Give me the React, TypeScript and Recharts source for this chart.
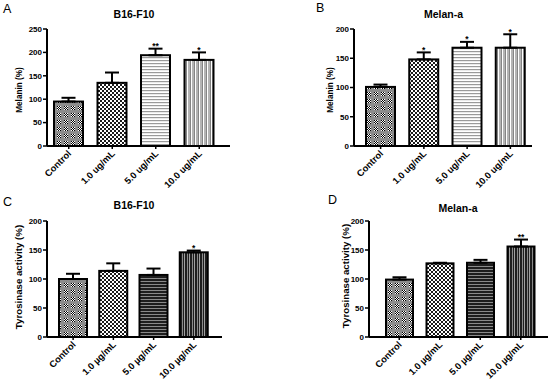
import React from 'react';
import { BarChart, Bar, XAxis, YAxis, ErrorBar, Cell } from 'recharts';

const categoriesUg = ['Control', '1.0 ug/mL', '5.0 ug/mL', '10.0 ug/mL'];
const categoriesMu = ['Control', '1.0 µg/mL', '5.0 µg/mL', '10.0 µg/mL'];

const melaninB16 = [95, 135, 194, 184];
const melaninB16Err = [8, 22, 14, 16];
const melaninB16Stars = ['', '', '**', '*'];

const melaninMelan = [101, 148, 168, 168];
const melaninMelanErr = [4, 12, 10, 23];
const melaninMelanStars = ['', '*', '*', '*'];

const tyrB16 = [100, 114, 107, 146];
const tyrB16Err = [9, 13, 11, 3];
const tyrB16Stars = ['', '', '', '*'];

const tyrMelan = [99, 127, 128, 156];
const tyrMelanErr = [4, 1, 5, 12];
const tyrMelanStars = ['', '', '', '**'];

const ticks250 = [0, 50, 100, 150, 200, 250];
const ticks200 = [0, 50, 100, 150, 200];

const FONT = "'Liberation Sans', Arial, sans-serif";

function makeRows(cats: string[], vals: number[], errs: number[], stars: string[]) {
  return cats.map((c, i) => ({ name: c, value: vals[i], err: [0, errs[i]], sd: errs[i], star: stars[i] }));
}

const XTick = (props: any) => {
  const { x, y, payload } = props;
  return (
    <g transform={`translate(${x},${y})`}>
      <text x={0} y={4.5} transform="rotate(-45)" textAnchor="end" fontSize={9.3} fontWeight="bold" fontFamily={FONT} fill="#000">
        {payload.value}
      </text>
    </g>
  );
};

// bar body plus the significance stars above its error cap
const BarShape = (props: any) => {
  const { x, y, width, height, fill } = props;
  const row = props.payload ?? props;
  if (x == null || !height) return null;
  const top = y - (row.sd * height) / row.value;
  return (
    <g>
      <rect x={x} y={y} width={width} height={height} fill={fill} stroke="#000" strokeWidth={2} />
      {row.star ? (
        <text x={x + width / 2} y={top + 0.5} textAnchor="middle" fontSize={8.5} fontWeight="bold" fontFamily={FONT} fill="#000">
          {row.star}
        </text>
      ) : null}
    </g>
  );
};

type PanelProps = {
  left: number;
  top: number;
  margin: { top: number; right: number; bottom: number; left: number };
  yWidth: number;
  rows: any[];
  ymax: number;
  ticks: number[];
  padding: { left: number; right: number };
  barSize: number;
  dark: boolean;
};

function Panel(p: PanelProps) {
  const fills = p.dark ? ['url(#pCtrl)', 'url(#pChk)', 'url(#pHDark)', 'url(#pVDark)'] : ['url(#pCtrl)', 'url(#pChk)', 'url(#pHLight)', 'url(#pVLight)'];
  return (
    <div style={{ position: 'absolute', left: p.left, top: p.top }}>
      <BarChart width={275} height={191} data={p.rows} margin={p.margin}>
        <XAxis
          dataKey="name"
          interval={0}
          height={45}
          padding={p.padding}
          axisLine={{ stroke: '#000', strokeWidth: 2 }}
          tickLine={{ stroke: '#000', strokeWidth: 1.5 }}
          tickSize={3}
          tick={<XTick />}
        />
        <YAxis
          width={p.yWidth}
          domain={[0, p.ymax]}
          ticks={p.ticks}
          axisLine={{ stroke: '#000', strokeWidth: 2 }}
          tickLine={{ stroke: '#000', strokeWidth: 1.5 }}
          tickSize={4}
          tickMargin={1}
          tick={{ fontSize: 8, fontWeight: 'bold', fontFamily: FONT, fill: '#000' }}
        />
        <Bar dataKey="value" barSize={p.barSize} isAnimationActive={false} shape={<BarShape />}>
          {p.rows.map((r, i) => (
            <Cell key={r.name} fill={fills[i]} />
          ))}
          <ErrorBar dataKey="err" width={7} stroke="#000" strokeWidth={2} direction="y" />
        </Bar>
      </BarChart>
    </div>
  );
}

export default function App() {
  return (
    <div style={{ position: 'absolute', left: 0, top: 0, width: 550, height: 382, background: '#fff', overflow: 'hidden' }}>
      <svg width={0} height={0} style={{ position: 'absolute' }}>
        <defs>
          <pattern id="pCtrl" patternUnits="userSpaceOnUse" width={7} height={7}>
            <rect width={7} height={7} fill="#8c8c8c" />
            <rect x={1} y={1} width={1} height={1} fill="#000" />
            <rect x={3} y={1} width={1} height={1} fill="#000" />
            <rect x={2} y={1} width={1} height={1} fill="#fff" />
            <rect x={4} y={1} width={1} height={1} fill="#fff" />
            <rect x={1} y={2} width={1} height={1} fill="#fff" />
            <rect x={3} y={2} width={1} height={1} fill="#fff" />
            <rect x={2} y={2} width={1} height={1} fill="#000" />
            <rect x={4} y={2} width={1} height={1} fill="#000" />
            <rect x={1} y={3} width={1} height={1} fill="#000" />
            <rect x={3} y={3} width={1} height={1} fill="#000" />
            <rect x={2} y={3} width={1} height={1} fill="#fff" />
            <rect x={4} y={3} width={1} height={1} fill="#fff" />
            <rect x={1} y={4} width={1} height={1} fill="#fff" />
            <rect x={3} y={4} width={1} height={1} fill="#fff" />
            <rect x={2} y={4} width={1} height={1} fill="#000" />
            <rect x={4} y={4} width={1} height={1} fill="#000" />
          </pattern>
          <pattern id="pChk" patternUnits="userSpaceOnUse" width={4} height={4}>
            <rect width={4} height={4} fill="#fff" />
            <rect x={0} y={0} width={2} height={2} fill="#1a1a1a" />
            <rect x={2} y={2} width={2} height={2} fill="#1a1a1a" />
          </pattern>
          <pattern id="pHLight" patternUnits="userSpaceOnUse" width={4} height={3}>
            <rect width={4} height={3} fill="#fff" />
            <rect x={0} y={0} width={4} height={1.2} fill="#9a9a9a" />
          </pattern>
          <pattern id="pVLight" patternUnits="userSpaceOnUse" width={4} height={4}>
            <rect width={4} height={4} fill="#fff" />
            <rect x={0} y={0} width={2} height={4} fill="#b4b4b4" />
            <rect x={2} y={0} width={0.8} height={4} fill="#666" />
          </pattern>
          <pattern id="pHDark" patternUnits="userSpaceOnUse" width={4} height={3}>
            <rect width={4} height={3} fill="#1e1e1e" />
            <rect x={0} y={0} width={4} height={1} fill="#8a8a8a" />
          </pattern>
          <pattern id="pVDark" patternUnits="userSpaceOnUse" width={5} height={4}>
            <rect width={5} height={4} fill="#1e1e1e" />
            <rect x={2} y={0} width={1} height={4} fill="#8a8a8a" />
            <rect x={4} y={0} width={0.7} height={4} fill="#d8d8d8" />
          </pattern>
        </defs>
      </svg>

      <Panel left={0} top={0} margin={{ top: 29, right: 45, bottom: 0, left: 0 }} yWidth={47}
        rows={makeRows(categoriesUg, melaninB16, melaninB16Err, melaninB16Stars)} ymax={250} ticks={ticks250}
        padding={{ left: 0, right: 9 }} barSize={29} dark={false} />
      <Panel left={275} top={0} margin={{ top: 29, right: 18, bottom: 0, left: 0 }} yWidth={79}
        rows={makeRows(categoriesUg, melaninMelan, melaninMelanErr, melaninMelanStars)} ymax={200} ticks={ticks200}
        padding={{ left: 5, right: 0 }} barSize={29} dark={false} />
      <Panel left={0} top={191} margin={{ top: 30, right: 53, bottom: 0, left: 0 }} yWidth={47}
        rows={makeRows(categoriesMu, tyrB16, tyrB16Err, tyrB16Stars)} ymax={200} ticks={ticks200}
        padding={{ left: 6, right: 8 }} barSize={28} dark={true} />
      <Panel left={275} top={191} margin={{ top: 30, right: 2, bottom: 0, left: 0 }} yWidth={94}
        rows={makeRows(categoriesMu, tyrMelan, tyrMelanErr, tyrMelanStars)} ymax={200} ticks={ticks200}
        padding={{ left: 10, right: 7 }} barSize={27} dark={true} />

      <svg width={550} height={382} style={{ position: 'absolute', left: 0, top: 0, pointerEvents: 'none' }} fontFamily={FONT}>
        <text x={3} y={12.5} fontSize={12.5}>A</text>
        <text x={316} y={12} fontSize={12.5}>B</text>
        <text x={3} y={206} fontSize={12.5}>C</text>
        <text x={328} y={204} fontSize={12.5}>D</text>

        <text x={134} y={17.5} fontSize={10.5} fontWeight="bold" textAnchor="middle">B16-F10</text>
        <text x={443.5} y={18} fontSize={10.5} fontWeight="bold" textAnchor="middle">Melan-a</text>
        <text x={134} y={209} fontSize={10.5} fontWeight="bold" textAnchor="middle">B16-F10</text>
        <text x={458} y={212} fontSize={10.5} fontWeight="bold" textAnchor="middle">Melan-a</text>

        <text transform="translate(22,90) rotate(-90)" fontSize={8.2} fontWeight="bold" textAnchor="middle">Melanin (%)</text>
        <text transform="translate(333,90) rotate(-90)" fontSize={8.2} fontWeight="bold" textAnchor="middle">Melanin (%)</text>
        <text transform="translate(22,277) rotate(-90)" fontSize={9.7} fontWeight="bold" textAnchor="middle">Tyrosinase activity (%)</text>
        <text transform="translate(349,276) rotate(-90)" fontSize={9.7} fontWeight="bold" textAnchor="middle">Tyrosinase activity (%)</text>
      </svg>
    </div>
  );
}
